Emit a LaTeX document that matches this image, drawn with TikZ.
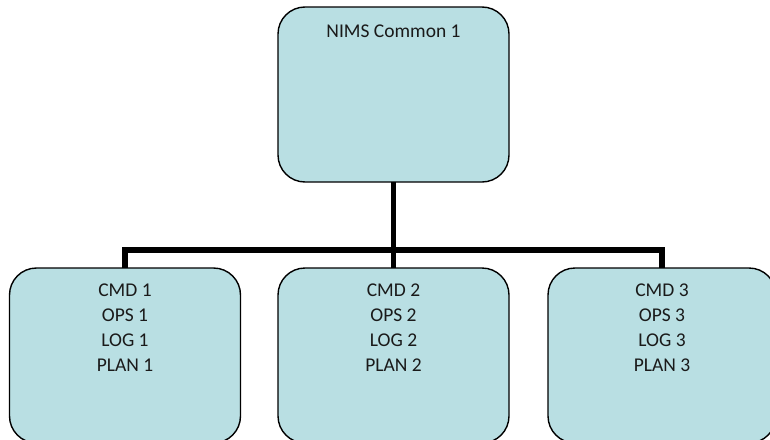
\documentclass[tikz,border=0pt]{standalone}
\usepackage{fontspec}
\setmainfont{Carlito}
\definecolor{boxfill}{HTML}{B9DFE3}
\definecolor{txtcol}{HTML}{1A1A1A}
\tikzset{
  orgbox/.style={draw=black, line width=1.4pt, fill=boxfill, rounded corners=27pt,
    minimum width=231pt, minimum height=175pt, inner sep=0pt, outer sep=0pt},
  orgtxt/.style={inner sep=0pt, align=center, text=txtcol,
    font=\fontsize{19.5}{25}\selectfont, anchor=north},
  conn/.style={draw=black, line width=5.6pt, line join=miter}
}
\begin{document}
\begin{tikzpicture}[x=1pt,y=-1pt]
\useasboundingbox (0,0) rectangle (770,439);
\clip (0,0) rectangle (770,439);
\coordinate (bus) at (0,250);
\node[orgbox] (top) at (393.5,94.5) {};
\node[orgbox] (l) at (125,355.5) {};
\node[orgbox] (m) at (393.5,355.5) {};
\node[orgbox, minimum width=228pt] (r) at (662,355.5) {};
\draw[conn] (top.south) -- (m.north);
\draw[conn] (l.north) -- (l.north |- bus) -| (r.north);
\node[orgtxt] (toptxt) at (393.5,25) {NIMS Common 1};
\node[orgtxt] (ltxt) at (125,284) {CMD 1\\OPS 1\\LOG 1\\PLAN 1};
\node[orgtxt] (mtxt) at (393.5,284) {CMD 2\\OPS 2\\LOG 2\\PLAN 2};
\node[orgtxt] (rtxt) at (662,284) {CMD 3\\OPS 3\\LOG 3\\PLAN 3};
\end{tikzpicture}
\end{document}
